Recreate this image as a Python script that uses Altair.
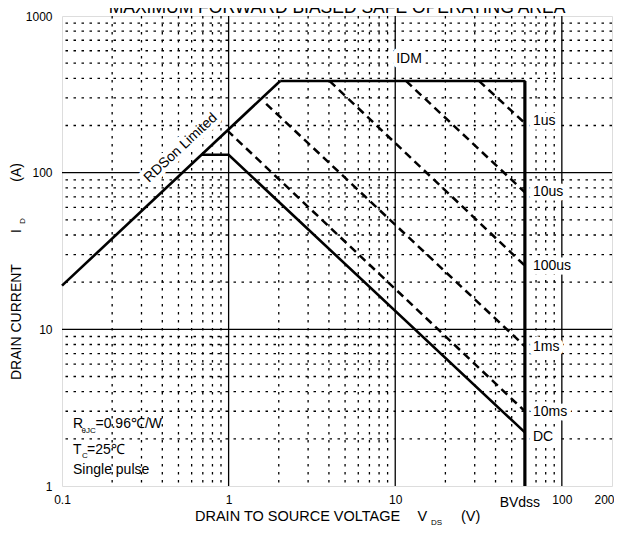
import altair as alt
import pandas as pd

FONT = "Liberation Sans"

# ---- axes / grid values ----
X_DOMAIN = [0.1, 200]
Y_DOMAIN = [1, 1000]
X_TICKS = [0.1, 1, 10, 100, 200]
Y_TICKS = [1, 10, 100, 1000]
MAJOR_X = [1, 10, 100]
MAJOR_Y = [10, 100]
MINOR_X = [0.2, 0.3, 0.4, 0.5, 0.6, 0.7, 0.8, 0.9,
           2, 3, 4, 5, 6, 7, 8, 9,
           20, 30, 40, 50, 60, 70, 80, 90]
MINOR_Y = [2, 3, 4, 5, 6, 7, 8, 9,
           20, 30, 40, 50, 60, 70, 80, 90,
           200, 300, 400, 500, 600, 700, 800, 900]

# ---- SOA curves (V, A) ----
rdson_v = [0.1, 2.04]
rdson_i = [19.0, 385]
idm_v = [2.04, 60]
idm_i = [385, 385]
bvdss_v = [60, 60]
bvdss_i = [385, 1]
dc_v = [0.686, 1.0, 60]
dc_i = [130, 130, 2.2]
ms10_v = [0.98, 60]
ms10_i = [186, 3.0]
ms1_v = [1.68, 60]
ms1_i = [275, 7.8]
us100_v = [4.03, 60]
us100_i = [385, 25.5]
us10_v = [11.6, 60]
us10_i = [385, 75]
us1_v = [31.8, 60]
us1_i = [385, 207]

# ---- labels ----
curve_labels = ["1us", "10us", "100us", "1ms", "10ms", "DC"]
curve_label_v = [68, 68, 68, 68, 68, 68]
curve_label_i = [214, 75, 25.2, 7.7, 2.97, 2.06]
idm_label = ["IDM"]
idm_label_v = [12.1]
idm_label_i = [530]
rds_label = ["RDSon Limited"]
rds_label_v = [0.516]
rds_label_i = [144]
bv_label = ["BVdss"]
bv_label_v = [56]

title_text = ["MAXIMUM FORWARD BIASED SAFE OPERATING AREA"]
x_title = ["DRAIN TO SOURCE VOLTAGE", "V", "(V)"]
x_title_sub = ["DS"]
y_title = ["DRAIN CURRENT", "I", "(A)"]
y_title_sub = ["D"]
note_main = ["R", "=0.96\u2103/W", "T", "=25\u2103", "Single pulse"]
note_sub = ["\u03b8JC", "C"]


def frame(names, vs, cs):
    rows = []
    for n, vv, cc in zip(names, vs, cs):
        for k, (a, b) in enumerate(zip(vv, cc)):
            rows.append({"series": n, "v": a, "i": b, "k": k})
    return pd.DataFrame(rows)


solid_df = frame(["RDSon", "IDM", "DC"], [rdson_v, idm_v, dc_v], [rdson_i, idm_i, dc_i])
bv_df = frame(["BVdss"], [bvdss_v], [bvdss_i])
dash_df = frame(["10ms", "1ms", "100us", "10us", "1us"],
                [ms10_v, ms1_v, us100_v, us10_v, us1_v],
                [ms10_i, ms1_i, us100_i, us10_i, us1_i])

xs = alt.Scale(type="log", domain=X_DOMAIN, nice=False)
ys = alt.Scale(type="log", domain=Y_DOMAIN, nice=False)
xax = alt.Axis(values=X_TICKS, format="~g", grid=False, ticks=False, tickSize=0, domain=False,
               labelFont=FONT, labelFontSize=12, labelColor="black", labelPadding=8,
               labelFlush=False, labelOverlap=False, title=None,
               labelOffset={"expr": "datum.value == 200 ? -8 : 0"})
yax = alt.Axis(values=Y_TICKS, format="~g", grid=False, ticks=False, tickSize=0, domain=False,
               labelFont=FONT, labelFontSize=12, labelColor="black", labelPadding=10,
               labelFlush=False, labelOverlap=False, title=None)


def X(f):
    return alt.X(f"{f}:Q", scale=xs, axis=xax, title=None)


def Y(f):
    return alt.Y(f"{f}:Q", scale=ys, axis=yax, title=None)


minor_x = alt.Chart(pd.DataFrame({"gx": MINOR_X})).mark_rule(
    color="black", strokeWidth=1.3, strokeDash=[2.5, 5.5]).encode(x=X("gx"))
minor_y = alt.Chart(pd.DataFrame({"gy": MINOR_Y})).mark_rule(
    color="black", strokeWidth=1.3, strokeDash=[2.5, 5.5]).encode(y=Y("gy"))
major_x = alt.Chart(pd.DataFrame({"gx": MAJOR_X})).mark_rule(
    color="black", strokeWidth=1.3).encode(x=X("gx"))
major_y = alt.Chart(pd.DataFrame({"gy": MAJOR_Y})).mark_rule(
    color="black", strokeWidth=1.3).encode(y=Y("gy"))

solid = alt.Chart(solid_df).mark_line(color="black", strokeWidth=2.6).encode(
    x=X("v"), y=Y("i"), detail="series:N", order="k:Q")
bv = alt.Chart(bv_df).mark_line(color="black", strokeWidth=3.2).encode(
    x=X("v"), y=Y("i"), detail="series:N", order="k:Q")
dashed = alt.Chart(dash_df).mark_line(color="black", strokeWidth=2.5, strokeDash=[8, 5]).encode(
    x=X("v"), y=Y("i"), detail="series:N", order="k:Q")


def halo_text(df, xf, yf, **kw):
    base = alt.Chart(df)
    h = base.mark_text(font=FONT, fontSize=14, stroke="white", strokeWidth=9, strokeOpacity=1,
                       fill="white", strokeJoin="round", **kw).encode(
        x=X(xf), y=Y(yf), text="t:N")
    t = base.mark_text(font=FONT, fontSize=14, color="black", **kw).encode(
        x=X(xf), y=Y(yf), text="t:N")
    return [h, t]


curve_df = pd.DataFrame({"t": curve_labels, "v": curve_label_v, "i": curve_label_i})
idm_df = pd.DataFrame({"t": idm_label, "v": idm_label_v, "i": idm_label_i})
rds_df = pd.DataFrame({"t": rds_label, "v": rds_label_v, "i": rds_label_i})

texts = []
texts += halo_text(curve_df, "v", "i", align="left", baseline="middle", dx=-1)
texts += halo_text(idm_df, "v", "i", align="center", baseline="middle")
texts += halo_text(rds_df, "v", "i", align="center", baseline="middle", angle=317)

bv_lab = alt.Chart(pd.DataFrame({"t": bv_label, "v": bv_label_v})).mark_text(
    font=FONT, fontSize=14, color="black", align="center", baseline="alphabetic").encode(
    x=X("v"), y=alt.value(491), text="t:N")


def place(txt, x, y, size=14, **kw):
    return alt.Chart(pd.DataFrame({"t": [txt]})).mark_text(
        font=FONT, fontSize=size, color="black", align="left", baseline="alphabetic", **kw
    ).encode(x=alt.value(x), y=alt.value(y), text="t:N")


title = alt.Chart(pd.DataFrame({"t": title_text})).mark_text(
    font=FONT, fontSize=17.5, color="black", align="center", baseline="alphabetic").encode(
    x=alt.value(275), y=alt.value(-3), text="t:N")

annots = [
    title,
    place(x_title[0], 133, 505, size=14.5),
    place(x_title[1], 355.5, 505, size=14.5),
    place(x_title_sub[0], 369, 508.5, size=8),
    place(x_title[2], 399, 505, size=14.5),
    place(y_title[0], -41.5, 364, angle=270),
    place(y_title[1], -41.5, 217, angle=270),
    place(y_title_sub[0], -37.5, 208, size=8, angle=270),
    place(y_title[2], -41.5, 165.7, angle=270),
    place(note_main[0], 11, 412),
    place(note_sub[0], 19.5, 417, size=8),
    place(note_main[1], 33.5, 412),
    place(note_main[2], 11, 438),
    place(note_sub[1], 20, 442, size=8),
    place(note_main[3], 25, 438),
    place(note_main[4], 11, 458),
]

chart = alt.layer(
    minor_x, minor_y, major_x, major_y, solid, bv, dashed, *texts, bv_lab, *annots
).properties(
    width=550, height=470,
    autosize=alt.AutoSizeParams(type="none"),
    padding={"left": 54, "top": 8, "right": 2, "bottom": 40},
).configure_view(stroke="black", strokeWidth=2.5).configure(background="white")

chart.save("out.html", embed_options={"renderer": "svg", "actions": False})
